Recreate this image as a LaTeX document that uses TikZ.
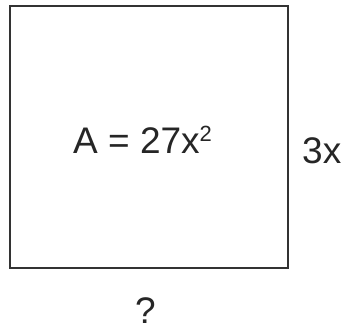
\documentclass[tikz,border=0pt]{standalone}
\usepackage{fontspec}
\setmainfont{Liberation Sans}
\begin{document}
\begin{tikzpicture}[x=1pt,y=-1pt,
  lbl/.style={inner sep=0pt, anchor=base west, text=black!85, font=\fontsize{37}{44}\selectfont},
  box/.style={draw=black!80, line width=1.8pt}]
\useasboundingbox (0,0) rectangle (345,330);
\draw[box] (10,6) rectangle (288,268);
\node[lbl] (area) at (73,153) {A = 27x\raisebox{12pt}{\fontsize{22}{26}\selectfont 2}};
\node[lbl] (side) at (302,163) {3x};
\node[lbl] (q) at (135,323) {?};
\end{tikzpicture}
\end{document}
